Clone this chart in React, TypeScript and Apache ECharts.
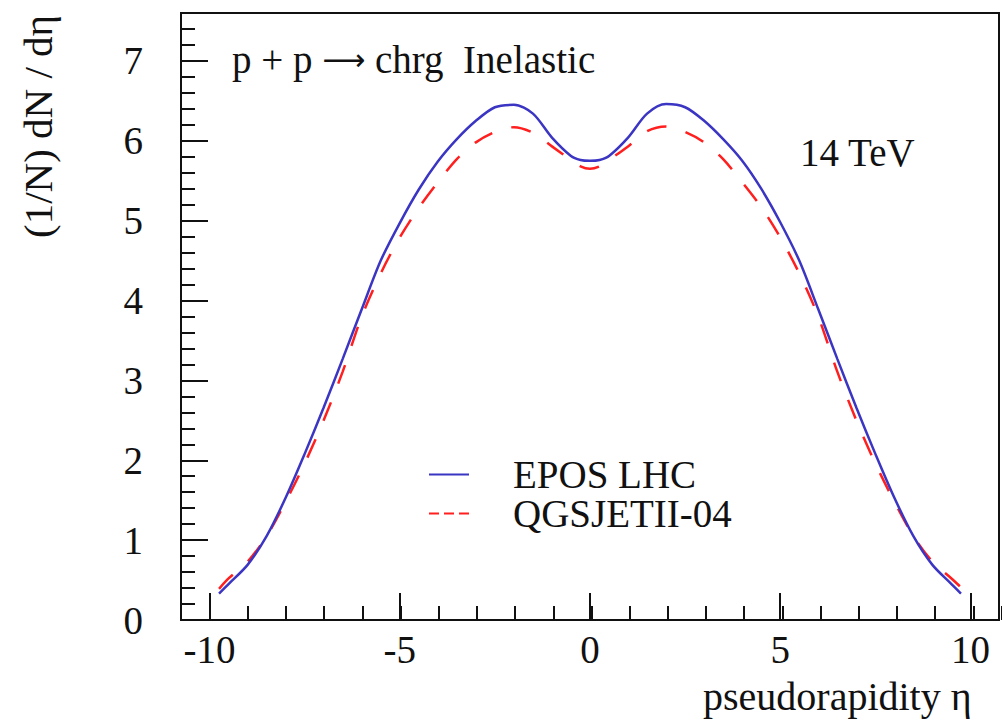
import React, { useEffect, useRef } from "react";
import * as echarts from "echarts";

// pseudorapidity bins
const ETA = [
  -9.75, -9.5, -9, -8.5, -8, -7.5, -7, -6.5, -6, -5.5, -5, -4.5, -4, -3.5, -3, -2.5, -2, -1.5, -1, -0.5, -0.25,
  0,
  0.25, 0.5, 1, 1.5, 2, 2.5, 3, 3.5, 4, 4.5, 5, 5.5, 6, 6.5, 7, 7.5, 8, 8.5, 9, 9.5, 9.75,
];
const EPOS_LHC = [
  0.33, 0.45, 0.69, 1.05, 1.53, 2.08, 2.66, 3.27, 3.89, 4.5, 4.97, 5.39, 5.74, 6.02, 6.25, 6.42, 6.45, 6.34, 6.04, 5.81, 5.76,
  5.75,
  5.76, 5.81, 6.04, 6.34, 6.46, 6.42, 6.25, 6.02, 5.75, 5.4, 4.98, 4.5, 3.89, 3.27, 2.66, 2.08, 1.53, 1.05, 0.69, 0.45, 0.33,
];
const QGSJETII_04 = [
  0.39, 0.52, 0.73, 1.05, 1.48, 1.96, 2.5, 3.11, 3.8, 4.34, 4.79, 5.16, 5.48, 5.77, 5.98, 6.11, 6.17, 6.1, 5.93, 5.76, 5.68,
  5.65,
  5.68, 5.76, 5.93, 6.12, 6.18, 6.11, 5.98, 5.77, 5.48, 5.17, 4.79, 4.34, 3.8, 3.11, 2.5, 1.96, 1.48, 1.05, 0.73, 0.52, 0.41,
];

const X_RANGE = [-10.75, 10.75];
const Y_RANGE = [0, 7.6];
const X_MAJOR_STEP = 5;
const X_MINOR_STEP = 1;
const Y_MAJOR_STEP = 1;
const Y_MINOR_STEP = 0.2;

const X_TITLE = "pseudorapidity \u03b7";
const Y_TITLE = "(1/N) dN / d\u03b7";
const ENERGY_TEXT = "14 TeV";

const FONT = '"Liberation Serif", "Times New Roman", serif';
const INK = "#111";
const BLUE = "#3b35c3";
const RED = "#ff1f1f";

export default function App() {
  const ref = useRef<HTMLDivElement>(null);

  useEffect(() => {
    if (!ref.current) return;
    const chart = echarts.init(ref.current, undefined, { renderer: "svg" });

    const tickStyle = { color: INK, width: 2 };
    const gridBox = { left: 181, top: 13, right: -1, bottom: 100 };

    chart.setOption({
      animation: false,
      backgroundColor: "#fff",
      grid: [
        { ...gridBox, show: true, borderColor: INK, borderWidth: 2, backgroundColor: "transparent" },
        { ...gridBox },
      ],
      xAxis: [
        {
          type: "value",
          gridIndex: 0,
          min: X_RANGE[0],
          max: X_RANGE[1],
          splitNumber: 4,
          minInterval: X_MAJOR_STEP,
          maxInterval: X_MAJOR_STEP,
          axisLine: { show: true, onZero: false, lineStyle: tickStyle },
          axisTick: { show: true, inside: true, length: 27, lineStyle: tickStyle },
          axisLabel: {
            margin: 10,
            fontFamily: FONT,
            fontSize: 39,
            color: INK,
            formatter: (v: number) => (Math.abs(v % X_MAJOR_STEP) < 1e-6 ? String(v) : ""),
          },
          splitLine: { show: false },
        },
        {
          type: "value",
          gridIndex: 1,
          min: X_RANGE[0],
          max: X_RANGE[1],
          splitNumber: 20,
          minInterval: X_MINOR_STEP,
          maxInterval: X_MINOR_STEP,
          axisLine: { show: false, onZero: false },
          axisTick: { show: true, inside: true, length: 14, lineStyle: tickStyle },
          axisLabel: { show: false },
          splitLine: { show: false },
        },
      ],
      yAxis: [
        {
          type: "value",
          gridIndex: 0,
          min: Y_RANGE[0],
          max: Y_RANGE[1],
          interval: Y_MAJOR_STEP,
          axisLine: { show: true, onZero: false, lineStyle: tickStyle },
          axisTick: { show: true, inside: true, length: 27, lineStyle: tickStyle },
          axisLabel: {
            margin: 38,
            fontFamily: FONT,
            fontSize: 39,
            color: INK,
            formatter: (v: number) => (Math.abs(v % Y_MAJOR_STEP) < 1e-6 ? String(v) : ""),
          },
          splitLine: { show: false },
        },
        {
          type: "value",
          gridIndex: 1,
          min: Y_RANGE[0],
          max: Y_RANGE[1],
          interval: Y_MINOR_STEP,
          axisLine: { show: false, onZero: false },
          axisTick: { show: true, inside: true, length: 14, lineStyle: tickStyle },
          axisLabel: { show: false },
          splitLine: { show: false },
        },
      ],
      legend: {
        orient: "vertical",
        left: 428,
        top: 455,
        itemWidth: 40,
        itemHeight: 14,
        itemGap: 0,
        padding: 0,
        itemStyle: { opacity: 0 },
        textStyle: {
          fontFamily: FONT,
          fontSize: 39,
          color: INK,
          lineHeight: 37,
          padding: [0, 0, 0, 39],
        },
        data: [
          { name: "EPOS LHC", itemStyle: { opacity: 0 }, lineStyle: { width: 2 } },
          { name: "QGSJETII-04", itemStyle: { opacity: 0 }, lineStyle: { width: 2, type: [10, 5] } },
        ],
      },
      series: [
        {
          type: "line",
          name: "QGSJETII-04",
          xAxisIndex: 0,
          yAxisIndex: 0,
          data: ETA.map((x, i) => [x, QGSJETII_04[i]]),
          symbol: "none",
          showSymbol: false,
          smooth: 0.3,
          lineStyle: { color: RED, width: 2.5, type: [20, 20] },
          itemStyle: { color: RED },
          z: 2,
        },
        {
          type: "line",
          name: "EPOS LHC",
          xAxisIndex: 0,
          yAxisIndex: 0,
          data: ETA.map((x, i) => [x, EPOS_LHC[i]]),
          symbol: "none",
          showSymbol: false,
          smooth: 0.3,
          lineStyle: { color: BLUE, width: 2.5 },
          itemStyle: { color: BLUE },
          z: 3,
        },
      ],
      graphic: [
        {
          type: "text",
          x: 232,
          y: 59,
          style: {
            text: "p + p {arr|\u27f6} chrg  Inelastic",
            fill: INK,
            font: `39px ${FONT}`,
            align: "left",
            verticalAlign: "middle",
            rich: {
              arr: { fontFamily: '"DejaVu Sans", sans-serif', fontSize: 30, fill: INK, fontWeight: "normal" },
            },
          },
        },
        {
          type: "text",
          x: 800,
          y: 152,
          style: { text: ENERGY_TEXT, fill: INK, font: `39px ${FONT}`, align: "left", verticalAlign: "middle" },
        },
        {
          type: "text",
          x: 703,
          y: 696,
          style: { text: X_TITLE, fill: INK, font: `40px ${FONT}`, align: "left", verticalAlign: "middle" },
        },
        {
          type: "text",
          x: 38,
          y: 15,
          rotation: Math.PI / 2,
          style: { text: Y_TITLE, fill: INK, font: `41px ${FONT}`, align: "right", verticalAlign: "middle" },
        },
      ],
    });

    return () => chart.dispose();
  }, []);

  return (
    <div
      ref={ref}
      style={{ position: "absolute", left: 0, top: 0, width: 1002, height: 720, background: "#fff" }}
    />
  );
}
